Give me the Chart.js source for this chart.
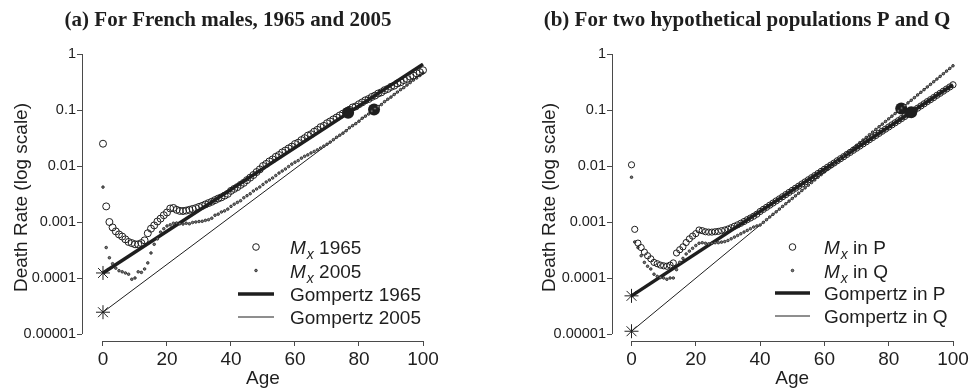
<!DOCTYPE html>
<html>
<head>
<meta charset="utf-8">
<script src="https://cdn.jsdelivr.net/npm/chart.js@4.4.1/dist/chart.umd.min.js"></script>
<style>
  html, body { margin: 0; padding: 0; background: #fff; }
  #wrap { position: relative; width: 970px; height: 392px; }
  .pane { position: absolute; top: 0; width: 485px; height: 392px; }
</style>
</head>
<body>
<div id="wrap">
  <div class="pane" style="left:0"><canvas id="chartA" width="485" height="392"></canvas></div>
  <div class="pane" style="left:485px"><canvas id="chartB" width="485" height="392"></canvas></div>
</div>
<script>
// ---- data ----
const ages = [0,1,2,3,4,5,6,7,8,9,10,11,12,13,14,15,16,17,18,19,20,21,22,23,24,25,26,27,28,29,30,31,32,33,34,35,36,37,38,39,40,41,42,43,44,45,46,47,48,49,50,51,52,53,54,55,56,57,58,59,60,61,62,63,64,65,66,67,68,69,70,71,72,73,74,75,76,77,78,79,80,81,82,83,84,85,86,87,88,89,90,91,92,93,94,95,96,97,98,99,100];

// (a) French males
const m1965 = [
  0.025, 0.0019, 0.0010, 0.00080, 0.00068, 0.00060, 0.00055, 0.00049, 0.00044, 0.00042,
  0.00040, 0.00040, 0.00042, 0.00047, 0.00063, 0.00076, 0.00087, 0.00102, 0.00115, 0.00132,
  0.00148, 0.00174, 0.00178, 0.00165, 0.00158, 0.00157, 0.00160, 0.00165, 0.00171, 0.00177,
  0.00186, 0.00194, 0.00206, 0.00218, 0.00230, 0.00246, 0.00262, 0.00276, 0.00296, 0.00318,
  0.0036, 0.0039, 0.0042, 0.0046, 0.0050, 0.0056, 0.0062, 0.0069, 0.0078, 0.0087,
  0.0100, 0.0109, 0.0121, 0.0131, 0.0146, 0.0157, 0.0175, 0.0189, 0.0206, 0.0222,
  0.0247, 0.0261, 0.0290, 0.0314, 0.0349, 0.0369, 0.0410, 0.0443, 0.0494, 0.0521,
  0.0580, 0.0626, 0.0681, 0.0735, 0.0800, 0.0864, 0.0940, 0.101, 0.111, 0.116,
  0.127, 0.137, 0.149, 0.157, 0.171, 0.181, 0.197, 0.207, 0.226, 0.238,
  0.259, 0.272, 0.298, 0.313, 0.342, 0.360, 0.393, 0.413, 0.452, 0.474,
  0.513
];
const m2005 = [
  0.0042, 0.00035, 0.00023, 0.00018, 0.00015, 0.000135, 0.000129, 0.000123, 0.000117, 0.000095,
  0.000100, 0.000129, 0.000126, 0.000145, 0.000186, 0.00028, 0.00040, 0.00050, 0.00066, 0.00076,
  0.00085, 0.00089, 0.00095, 0.00096, 0.00093, 0.00092, 0.00095, 0.00093, 0.00098, 0.00100,
  0.00102, 0.00103, 0.00107, 0.00110, 0.00117, 0.00132, 0.00138, 0.00151, 0.00158, 0.00170,
  0.0019, 0.00208, 0.00224, 0.00240, 0.00271, 0.00295, 0.00320, 0.00358, 0.00389, 0.00422,
  0.00468, 0.00518, 0.00562, 0.00610, 0.00676, 0.00748, 0.00813, 0.00885, 0.00977, 0.0108,
  0.0117, 0.0125, 0.0138, 0.0149, 0.0158, 0.0171, 0.0182, 0.0194, 0.0209, 0.0226,
  0.0245, 0.0267, 0.0295, 0.0326, 0.0355, 0.0386, 0.0427, 0.0482, 0.0525, 0.0571,
  0.0631, 0.0712, 0.0776, 0.0846, 0.0955, 0.106, 0.115, 0.125, 0.141, 0.156,
  0.170, 0.189, 0.209, 0.231, 0.251, 0.279, 0.309, 0.342, 0.372, 0.412,
  0.457
];

// (b) hypothetical P and Q
const mP = [
  0.0105, 0.00074, 0.00042, 0.00035, 0.00029, 0.00025, 0.00022, 0.00019, 0.00018, 0.00017,
  0.000165, 0.000162, 0.000170, 0.000186, 0.00028, 0.00032, 0.00036, 0.00043, 0.00050, 0.00056,
  0.00062, 0.00072, 0.00070, 0.00067, 0.00066, 0.00066, 0.00067, 0.00068, 0.00070, 0.00072,
  0.00075, 0.00079, 0.00084, 0.00089, 0.00095, 0.00102, 0.00110, 0.00118, 0.00127, 0.00138,
  0.00154, 0.00168, 0.00183, 0.00200, 0.00218, 0.00238, 0.00259, 0.00283, 0.00309, 0.00337,
  0.00367, 0.00401, 0.00437, 0.00477, 0.00520, 0.00567, 0.00618, 0.00674, 0.00735, 0.00802,
  0.00875, 0.00954, 0.0104, 0.0113, 0.0124, 0.0135, 0.0147, 0.0161, 0.0175, 0.0191,
  0.0208, 0.0227, 0.0248, 0.0270, 0.0295, 0.0322, 0.0351, 0.0383, 0.0418, 0.0455,
  0.0497, 0.0542, 0.0591, 0.0644, 0.0703, 0.0766, 0.0836, 0.0912, 0.0995, 0.108,
  0.118, 0.129, 0.141, 0.153, 0.167, 0.183, 0.199, 0.217, 0.237, 0.258,
  0.282
];
const mQ = [
  0.0063, 0.00044, 0.00035, 0.00025, 0.00019, 0.000162, 0.000145, 0.000117, 0.000107, 0.000102,
  0.000100, 0.000095, 0.000100, 0.000100, 0.000141, 0.000191, 0.000224, 0.000269, 0.000302, 0.000339,
  0.00038, 0.000417, 0.000427, 0.000417, 0.000407, 0.000417, 0.000427, 0.000427, 0.000437, 0.000447,
  0.000468, 0.000501, 0.000537, 0.000575, 0.000617, 0.000661, 0.000708, 0.000759, 0.000813, 0.000851,
  0.000883, 0.000985, 0.00110, 0.00123, 0.00137, 0.00152, 0.00170, 0.00190, 0.00212, 0.00236,
  0.00263, 0.00293, 0.00327, 0.00365, 0.00407, 0.00454, 0.00506, 0.00565, 0.00630, 0.00702,
  0.00783, 0.00874, 0.00974, 0.0109, 0.0121, 0.0135, 0.0151, 0.0168, 0.0188, 0.0209,
  0.0234, 0.0261, 0.0291, 0.0324, 0.0362, 0.0403, 0.0450, 0.0502, 0.0559, 0.0624,
  0.0696, 0.0776, 0.0865, 0.0965, 0.108, 0.120, 0.134, 0.149, 0.166, 0.186,
  0.207, 0.231, 0.258, 0.287, 0.320, 0.357, 0.398, 0.444, 0.495, 0.552,
  0.616
];

// Gompertz fits (straight lines on the log scale, end points)
const gompAges = [0, 100];
const gomp1965 = [0.000123, 0.66];
const gomp2005 = [0.0000245, 0.457];
const gompP = [0.000048, 0.282];
const gompQ = [0.0000112, 0.616];

// big filled markers
const markAgesA = [76.6, 84.7];
const markRatesA = [0.089, 0.102];
const markAgesB = [83.9, 87.0];
const markRatesB = [0.106, 0.091];

// axes
const xTicks = [0, 20, 40, 60, 80, 100];
const yTicks = [0.00001, 0.0001, 0.001, 0.01, 0.1, 1];
const yTickLabels = ['0.00001', '0.0001', '0.001', '0.01', '0.1', '1'];
const Y_MIN = 0.0000075;

const legendA = ['1965', '2005', 'Gompertz 1965', 'Gompertz 2005'];
const legendB = ['in P', 'in Q', 'Gompertz in P', 'Gompertz in Q'];

// ---- drawing ----
const SANS = '"Liberation Sans", Arial, sans-serif';
const SERIF = '"Liberation Serif", "Times New Roman", serif';
const INK = '#1e1e1e';
const AXIS = '#4a4a4a';

function pts(xs, ys) { return xs.map((x, i) => ({ x, y: ys[i] })); }
function align(p) { return Math.round(p - 0.5) + 0.5; }

// R-style axes (only over the tick range), title, x label and legend
const rFrame = {
  id: 'rFrame',
  afterDraw(chart, args, o) {
    const { ctx, chartArea: a, scales: { x, y } } = chart;
    ctx.save();
    ctx.strokeStyle = AXIS; ctx.lineWidth = 1;
    const by = align(a.bottom), lx = align(a.left);
    ctx.beginPath();
    ctx.moveTo(x.getPixelForValue(0), by); ctx.lineTo(x.getPixelForValue(100), by);
    ctx.moveTo(lx, y.getPixelForValue(yTicks[0])); ctx.lineTo(lx, y.getPixelForValue(1));
    ctx.stroke();

    ctx.fillStyle = INK;
    ctx.textAlign = 'center';
    ctx.textBaseline = 'alphabetic';
    ctx.font = 'bold 21px ' + SERIF;
    ctx.fillText(o.title, o.titleX, 26);

    ctx.font = '19px ' + SANS;
    ctx.fillText('Age', (x.getPixelForValue(0) + x.getPixelForValue(100)) / 2, 384);

    // legend
    const L = o.legend;
    const cx = (L.x0 + L.x1) / 2;
    ctx.textAlign = 'left';
    L.labels.forEach((lab, i) => {
      const cy = L.rows[i];
      ctx.strokeStyle = INK; ctx.fillStyle = INK;
      if (i === 0) {
        ctx.lineWidth = 1;
        ctx.beginPath(); ctx.arc(cx, cy, 3.3, 0, Math.PI * 2); ctx.stroke();
      } else if (i === 1) {
        ctx.lineWidth = 0.8; ctx.fillStyle = '#777';
        ctx.beginPath(); ctx.arc(cx, cy, 1.3, 0, Math.PI * 2); ctx.fill(); ctx.stroke();
      } else {
        ctx.lineWidth = i === 2 ? 3.5 : 1;
        ctx.beginPath(); ctx.moveTo(L.x0, cy); ctx.lineTo(L.x1, cy); ctx.stroke();
      }
      ctx.fillStyle = INK;
      let tx = L.tx;
      const base = cy + 7;
      if (i < 2) {
        ctx.font = 'italic 19px ' + SANS;
        ctx.fillText('M', tx, base);
        tx += ctx.measureText('M').width + 1;
        ctx.font = 'italic 14px ' + SANS;
        ctx.fillText('x', tx, base + 5);
        tx += ctx.measureText('x').width;
        ctx.font = '19px ' + SANS;
        ctx.fillText(' ' + lab, tx, base);
      } else {
        ctx.font = '19px ' + SANS;
        ctx.fillText(lab, tx, base);
      }
    });
    ctx.restore();
  }
};

function makePanel(id, p) {
  return new Chart(document.getElementById(id), {
    type: 'scatter',
    data: {
      datasets: [
        { data: pts(ages, p.mA), pointStyle: 'circle', pointRadius: p.circR, borderColor: INK, borderWidth: 1, backgroundColor: 'rgba(0,0,0,0)', clip: false },
        { data: pts(ages, p.mB), pointStyle: 'circle', pointRadius: 1.3, borderColor: INK, borderWidth: 0.8, backgroundColor: '#777', clip: false },
        { data: pts(gompAges, p.gA), showLine: true, borderColor: INK, borderWidth: 3.5, pointRadius: 0, clip: false },
        { data: pts(gompAges, p.gB), showLine: true, borderColor: INK, borderWidth: 1, pointRadius: 0, clip: false },
        { data: pts([0, 0], [p.gA[0], p.gB[0]]), pointStyle: 'star', pointRadius: 7, borderColor: INK, borderWidth: 1, clip: false },
        { data: pts(p.markX, p.markY), pointStyle: 'circle', pointRadius: 6, backgroundColor: INK, borderColor: INK, borderWidth: 0, clip: false }
      ]
    },
    options: {
      responsive: false,
      animation: false,
      events: [],
      layout: { padding: p.pad },
      scales: {
        x: {
          type: 'linear', min: p.xMin, max: 100,
          afterBuildTicks: s => { s.ticks = xTicks.map(v => ({ value: v })); },
          afterFit: s => { s.height = 51; s.paddingLeft = 0; s.paddingRight = 0; },
          grid: { drawOnChartArea: false, drawTicks: true, tickLength: 5, color: AXIS, lineWidth: 1 },
          border: { display: false },
          ticks: { font: { family: SANS, size: 19 }, color: INK, padding: 2, maxRotation: 0, autoSkip: false }
        },
        y: {
          type: 'logarithmic', min: Y_MIN, max: 1,
          afterBuildTicks: s => { s.ticks = yTicks.map(v => ({ value: v })); },
          afterFit: s => { s.width = p.yWidth; s.paddingTop = 0; s.paddingBottom = 0; },
          grid: { drawOnChartArea: false, drawTicks: true, tickLength: 5, color: AXIS, lineWidth: 1 },
          border: { display: false },
          ticks: { callback: (v, i) => yTickLabels[i], font: { family: SANS, size: 14.5 }, color: INK, padding: 1, autoSkip: false },
          title: { display: true, text: 'Death Rate (log scale)', font: { family: SANS, size: 19 }, color: INK, padding: { top: 10.6, bottom: 0 } }
        }
      },
      plugins: {
        legend: { display: false },
        tooltip: { enabled: false },
        rFrame: { title: p.title, titleX: p.titleX, legend: p.legend }
      }
    },
    plugins: [rFrame]
  });
}

makePanel('chartA', {
  mA: m1965, mB: m2005, gA: gomp1965, gB: gomp2005,
  markX: markAgesA, markY: markRatesA, circR: 3.5,
  pad: { top: 54, right: 62, left: 0, bottom: 0 }, yWidth: 82, xMin: -6.56,
  title: '(a) For French males, 1965 and 2005', titleX: 228,
  legend: { labels: legendA, rows: [247, 270.5, 294, 317], x0: 238, x1: 274, tx: 290 }
});

makePanel('chartB', {
  mA: mP, mB: mQ, gA: gompP, gB: gompQ,
  markX: markAgesB, markY: markRatesB, circR: 3.1,
  pad: { top: 54, right: 17, left: 43, bottom: 0 }, yWidth: 84, xMin: -6.07,
  title: '(b) For two hypothetical populations P and Q', titleX: 262,
  legend: { labels: legendB, rows: [247, 270.5, 293, 316], x0: 290, x1: 325, tx: 339 }
});
</script>
</body>
</html>
